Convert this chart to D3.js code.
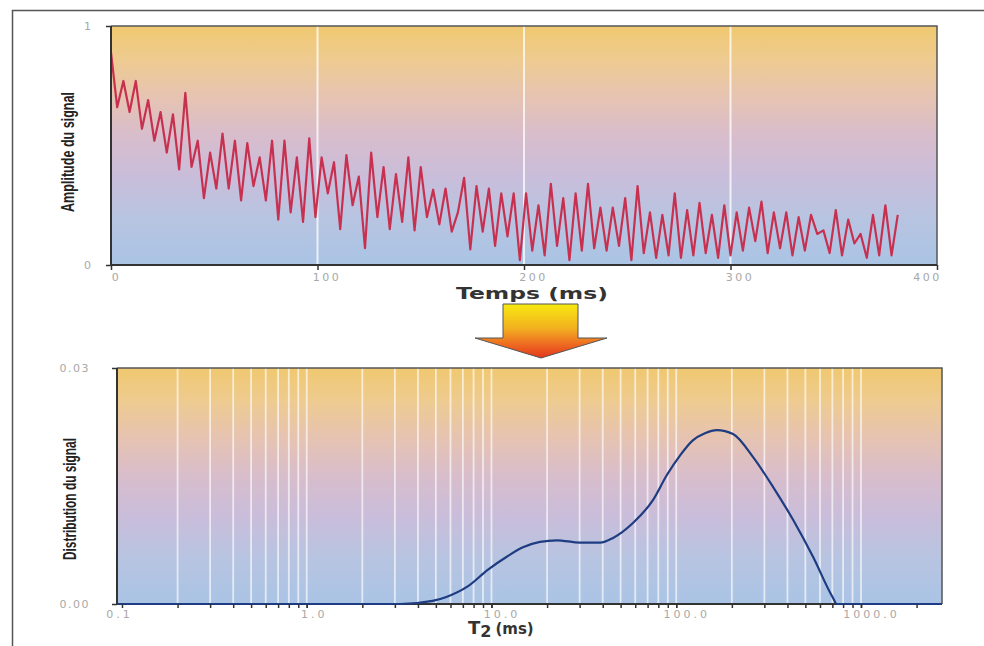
<!DOCTYPE html>
<html><head><meta charset="utf-8">
<script src="https://cdn.jsdelivr.net/npm/d3@7"></script>
<style>
body{margin:0;background:#fff;}
svg{display:block;}
.tick text{font-family:"DejaVu Sans",Verdana,sans-serif;}
</style></head>
<body><svg id="c" width="984" height="646"></svg>
<script>
// ---- data ----
const signal = [[0,.89],[3,.66],[6,.77],[9,.64],[12,.77],[15,.57],[18,.69],[21,.52],[24,.64],[27,.47],
[30,.63],[33,.40],[36,.72],[39,.41],[42,.52],[45,.28],[48,.47],[51,.32],[54,.55],[57,.32],
[60,.52],[63,.27],[66,.51],[69,.33],[72,.45],[75,.27],[78,.52],[81,.19],[84,.52],[87,.22],
[90,.45],[93,.18],[96,.53],[99,.20],[102,.45],[105,.30],[108,.43],[111,.15],[114,.46],[117,.25],
[120,.37],[123,.07],[126,.47],[129,.20],[132,.41],[135,.15],[138,.38],[141,.18],[144,.45],[147,.145],
[150,.41],[153,.20],[156,.315],[159,.17],[162,.32],[165,.14],[168,.22],[171,.365],[174,.065],[177,.33],
[180,.14],[183,.32],[186,.08],[189,.30],[192,.12],[195,.30],[198,.02],[201,.30],[204,.06],[207,.25],
[210,.04],[213,.34],[216,.08],[219,.28],[222,.02],[225,.30],[228,.06],[231,.34],[234,.07],[237,.24],
[240,.06],[243,.24],[246,.08],[249,.28],[252,.02],[255,.33],[258,.05],[261,.22],[264,.03],[267,.21],
[270,.04],[273,.30],[276,.03],[279,.23],[282,.04],[285,.26],[288,.05],[291,.21],[294,.03],[297,.25],
[300,.04],[303,.22],[306,.06],[309,.24],[312,.10],[315,.265],[318,.05],[321,.22],[324,.07],[327,.22],
[330,.04],[333,.20],[336,.06],[339,.21],[342,.13],[345,.145],[348,.05],[351,.23],[354,.04],[357,.19],
[360,.09],[363,.13],[366,.03],[369,.21],[372,.04],[375,.25],[378,.04],[381,.21]];

const t2Dist = [[0.094,0],[1,0],[3.2,0],[4.8,0.0004],[5.7,0.0009],[7.4,0.0022],[9.5,0.0043],[12.1,0.0060],
[14.8,0.0072],[18.3,0.0079],[22.6,0.0081],[30.1,0.0078],[38.7,0.0078],[45.5,0.0084],[58.3,0.0103],[74.8,0.0132],
[89,0.0164],[105,0.0189],[123,0.0208],[143,0.0217],[166,0.0221],[203,0.0216],[260,0.0187],[334,0.0149],[429,0.0107],
[550,0.0060],[705,0.0008],[741,0],[2745,0]];

const topXTicks = [0,100,200,300,400];
const topYTicks = [0,1];
const botXTicks = [0.1,1,10,100,1000];
const botYTicks = [0,0.03];
const botGrid = [0.2,0.3,0.4,0.5,0.6,0.7,0.8,0.9,1,2,3,4,5,6,7,8,9,10,20,30,40,50,60,70,80,90,100,200,300,400,500,600,700,800,900,1000];
const botMinorTicks = botGrid.concat([2000]);

// ---- drawing ----
const svg = d3.select("#c");
const defs = svg.append("defs");
const grad = defs.append("linearGradient").attr("id","bg").attr("x1",0).attr("y1",0).attr("x2",0).attr("y2",1);
[["0%","#f0c870"],["14%","#eecb90"],["30%","#e6c3b2"],["46%","#d8bdcc"],["62%","#cabdda"],["80%","#b8c4e1"],["100%","#aac4e5"]]
  .forEach(s=>grad.append("stop").attr("offset",s[0]).attr("stop-color",s[1]));
const ag = defs.append("linearGradient").attr("id","arrowg").attr("x1",0).attr("y1",0).attr("x2",0).attr("y2",1);
[["0%","#f7ea10"],["45%","#f2b020"],["75%","#ee6a22"],["100%","#e2361a"]]
  .forEach(s=>ag.append("stop").attr("offset",s[0]).attr("stop-color",s[1]));

// outer frame
svg.append("path").attr("d","M12.5,646 L12.5,10.5 L984,10.5").attr("fill","none").attr("stroke","#555").attr("stroke-width",1.5);

function styleAxis(g, spacing){
  g.select(".domain").remove();
  g.selectAll(".tick line").attr("stroke","#333").attr("stroke-width",1.5);
  g.selectAll(".tick text").attr("fill","#a8a8a8").attr("font-size","11px").attr("letter-spacing",spacing+"px");
}

// ---------- Top chart ----------
const x1 = d3.scaleLinear().domain([0,400]).range([111,937]);
const y1 = d3.scaleLinear().domain([0,1]).range([265,26]);
svg.append("rect").attr("x",x1(0)).attr("y",y1(1)).attr("width",x1(400)-x1(0)).attr("height",y1(0)-y1(1)).attr("fill","url(#bg)");
svg.append("g").selectAll("line").data([100,200,300]).join("line")
  .attr("x1",d=>x1(d)).attr("x2",d=>x1(d)).attr("y1",y1(1)).attr("y2",y1(0))
  .attr("stroke","#fff").attr("stroke-opacity",0.75).attr("stroke-width",2);
svg.append("path").datum(signal)
  .attr("d",d3.line().x(d=>x1(d[0])).y(d=>y1(d[1])))
  .attr("fill","none").attr("stroke","#c83050").attr("stroke-width",2.2).attr("stroke-linejoin","round");
svg.append("path").attr("d",`M${x1(0)},${y1(1)} H${x1(400)} V${y1(0)}`).attr("fill","none").attr("stroke","#555").attr("stroke-width",1.5);
svg.append("path").attr("d",`M${x1(0)},${y1(1)} V${y1(0)} H${x1(400)}`).attr("fill","none").attr("stroke","#333").attr("stroke-width",2);
const gx1 = svg.append("g").attr("transform",`translate(0,${y1(0)})`)
  .call(d3.axisBottom(x1).tickValues(topXTicks).tickSize(5).tickPadding(3).tickFormat(d3.format("d")));
styleAxis(gx1, 2.5);
gx1.selectAll(".tick text").attr("dx",(d,i)=> i===0?5:(i===4?-10:9));
const gy1 = svg.append("g").attr("transform",`translate(${x1(0)},0)`)
  .call(d3.axisLeft(y1).tickValues(topYTicks).tickSize(5).tickPadding(15).tickFormat(d3.format("d")));
styleAxis(gy1, 0);

svg.append("text").attr("transform","translate(74,152) rotate(-90)").attr("text-anchor","middle")
  .attr("font-family","'Liberation Sans Narrow','Arial Narrow','Liberation Sans',sans-serif").attr("font-weight","bold")
  .attr("font-size","18px").attr("fill","#222").attr("textLength",120).attr("lengthAdjust","spacingAndGlyphs")
  .text("Amplitude du signal");
svg.append("text").attr("x",532).attr("y",299).attr("text-anchor","middle")
  .attr("font-family","'DejaVu Sans',Verdana,sans-serif").attr("font-weight","bold")
  .attr("font-size","15px").attr("fill","#333").attr("textLength",152).attr("lengthAdjust","spacingAndGlyphs")
  .text("Temps (ms)");

// ---------- Arrow ----------
svg.append("path").attr("d","M503,304 H578 V338 H607 L541,358 L475,338 H503 Z")
  .attr("fill","url(#arrowg)").attr("stroke","#555").attr("stroke-width",1);

// ---------- Bottom chart ----------
const x2 = d3.scaleLog().domain([0.094,2745]).range([117,942]);
const y2 = d3.scaleLinear().domain([0,0.03]).range([604,368]);
svg.append("rect").attr("x",117).attr("y",y2(0.03)).attr("width",942-117).attr("height",y2(0)-y2(0.03)).attr("fill","url(#bg)");
svg.append("g").selectAll("line").data(botGrid).join("line")
  .attr("x1",d=>x2(d)).attr("x2",d=>x2(d)).attr("y1",y2(0.03)).attr("y2",y2(0))
  .attr("stroke","#fff").attr("stroke-opacity",0.65).attr("stroke-width",1.8);
svg.append("path").attr("d",`M117,${y2(0.03)} H942 V${y2(0)}`).attr("fill","none").attr("stroke","#555").attr("stroke-width",1.5);
svg.append("path").attr("d",`M117,${y2(0.03)} V${y2(0)} H942`).attr("fill","none").attr("stroke","#333").attr("stroke-width",2);
svg.append("path").datum(t2Dist)
  .attr("d",d3.line().curve(d3.curveMonotoneX).x(d=>x2(d[0])).y(d=>y2(d[1])))
  .attr("fill","none").attr("stroke","#1e3c82").attr("stroke-width",2.2);
const gmin = svg.append("g").attr("transform",`translate(0,${y2(0)})`)
  .call(d3.axisBottom(x2).tickValues(botMinorTicks).tickSize(4).tickFormat(""));
styleAxis(gmin, 0);
const gx2 = svg.append("g").attr("transform",`translate(0,${y2(0)})`)
  .call(d3.axisBottom(x2).tickValues(botXTicks).tickSize(4).tickPadding(2).tickFormat(d3.format(".1f")));
styleAxis(gx2, 3);
gx2.selectAll(".tick text").attr("dx",(d,i)=> i===0?-3:(i===1?7:10));
const gy2 = svg.append("g").attr("transform",`translate(117,0)`)
  .call(d3.axisLeft(y2).tickValues(botYTicks).tickSize(5).tickPadding(22).tickFormat(d3.format(".2f")));
styleAxis(gy2, 1.5);

svg.append("text").attr("transform","translate(76,499) rotate(-90)").attr("text-anchor","middle")
  .attr("font-family","'Liberation Sans Narrow','Arial Narrow','Liberation Sans',sans-serif").attr("font-weight","bold")
  .attr("font-size","18px").attr("fill","#222").attr("textLength",122).attr("lengthAdjust","spacingAndGlyphs")
  .text("Distribution du signal");
const t2 = svg.append("text").attr("x",468).attr("y",634)
  .attr("font-family","'DejaVu Sans',Verdana,sans-serif").attr("font-weight","bold").attr("fill","#333");
t2.append("tspan").attr("font-size","18px").text("T");
t2.append("tspan").attr("font-size","16px").attr("dy",3).text("2");
t2.append("tspan").attr("font-size","15px").attr("dy",-3).attr("dx",4).text("(ms)");
</script></body></html>
